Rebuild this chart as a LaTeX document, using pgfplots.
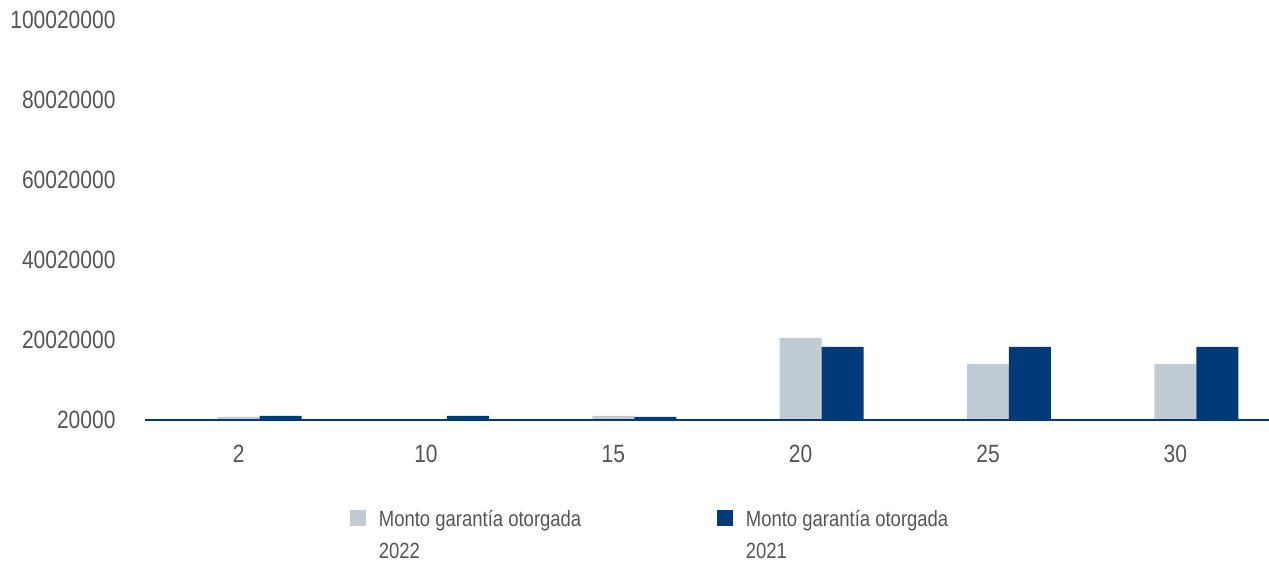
\documentclass[border=0pt]{standalone}
\usepackage{fontspec}
\setmainfont{Liberation Sans}[FakeStretch=0.84]
\usepackage{pgfplots}
\pgfplotsset{compat=1.18}
\definecolor{lightbar}{HTML}{C1CBD4}
\definecolor{navybar}{HTML}{003A78}
\definecolor{txt}{HTML}{555555}
\begin{document}
\begin{tikzpicture}
\path[use as bounding box] (0pt,0pt) rectangle (1269pt,564pt);
\begin{axis}[
  at={(145pt,144pt)}, anchor=south west,
  scale only axis, width=1124pt, height=400pt,
  xmin=-0.5, xmax=5.5,
  ymin=20000, ymax=100020000,
  xtick={0,1,2,3,4,5},
  xticklabels={2,10,15,20,25,30},
  ytick={20000,20020000,40020000,60020000,80020000,100020000},
  yticklabels={20000,20020000,40020000,60020000,80020000,100020000},
  scaled y ticks=false,
  major tick length=0pt,
  axis lines*=left,
  y axis line style={draw=none},
  x axis line style={draw=navybar, line width=2.5pt},
  axis on top,
  ybar, bar width=0.224,
  tick label style={font=\fontsize{25}{29}\selectfont, text=txt},
  yticklabel style={xshift=-26pt},
  xticklabel style={yshift=-22pt},
  /pgf/number format/assume math mode=true,
  legend columns=2,
  legend style={draw=none, fill=none, at={(0.1823,-0.22)}, anchor=north west,
    inner sep=0pt, outer sep=0pt,
    font=\fontsize{22}{32}\selectfont, text=txt,
    /tikz/every odd column/.style={column sep=11pt},
    /tikz/every even column/.style={column sep=36pt}},
  legend cell align=left,
  legend image code/.code={\fill[#1] (0pt,-7pt) rectangle (16pt,9pt);},
]
\addplot[fill=lightbar, draw=none, bar shift=0] coordinates {
  (0,770000) (1,20000) (2,1020000) (3,20520000) (4,14020000) (5,14020000)};
\addlegendentry{\parbox[t]{300pt}{Monto garantía otorgada\\2022}}
\addplot[fill=navybar, draw=none, bar shift=0.224] coordinates {
  (0,1020000) (1,1020000) (2,770000) (3,18270000) (4,18270000) (5,18270000)};
\addlegendentry{\parbox[t]{300pt}{Monto garantía otorgada\\2021}}
\end{axis}
\end{tikzpicture}
\end{document}
